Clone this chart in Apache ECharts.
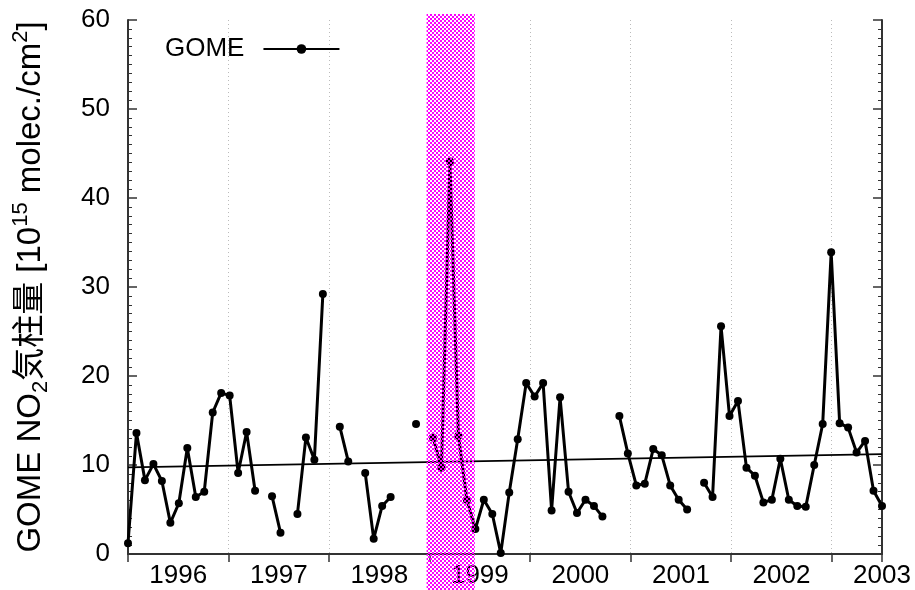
<!DOCTYPE html>
<html>
<head>
<meta charset="utf-8">
<title>GOME NO2</title>
<script src="https://cdn.jsdelivr.net/npm/echarts@6/dist/echarts.min.js"></script>
<style>
  html, body { margin: 0; padding: 0; background: #fff; }
  #chart { width: 915px; height: 590px; }
</style>
</head>
<body>
<div id="chart"></div>
<script>
// monthly GOME NO2 column, Jul 1995 .. Dec 2002 (null = no data)
const startYear = 1995;
const startMonth = 7;
const gomeValues = [
  1.2, 13.6, 8.3, 10.1, 8.2, 3.5,                                    // 1995 Jul-Dec
  5.7, 11.9, 6.4, 7.0, 15.9, 18.1, 17.8, 9.1, 13.7, 7.1, null, 6.5,   // 1996
  2.4, null, 4.5, 13.1, 10.6, 29.2, null, 14.3, 10.4, null, 9.1, 1.7, // 1997
  5.4, 6.4, null, null, 14.6, null, 13.1, 9.7, 44.1, 13.3, 6.1, 2.8,  // 1998
  6.1, 4.5, 0.1, 6.9, 12.9, 19.2, 17.7, 19.2, 4.9, 17.6, 7.0, 4.6,    // 1999
  6.1, 5.4, 4.2, null, 15.5, 11.3, 7.7, 7.9, 11.8, 11.1, 7.7, 6.1,    // 2000
  5.0, null, 8.0, 6.4, 25.6, 15.5, 17.2, 9.7, 8.8, 5.8, 6.1, 10.7,    // 2001
  6.1, 5.4, 5.3, 10.0, 14.6, 33.9, 14.7, 14.2, 11.4, 12.7, 7.1, 5.4   // 2002
];
// linear trend, value at first and last month
const trendEnds = [9.74, 11.22];
// highlighted period, in decimal years
const highlightRange = [1998.47, 1998.95];
const yearRange = [1995.5, 2003];

const months = gomeValues.map((v, i) => {
  const m = startMonth - 1 + i;
  return (startYear + Math.floor(m / 12)) + '-' + String(m % 12 + 1).padStart(2, '0');
});
const trendData = gomeValues.map((v, i) =>
  i === 0 ? trendEnds[0] : (i === gomeValues.length - 1 ? trendEnds[1] : null));

const FONT = "'Liberation Sans', 'Noto Sans CJK JP', sans-serif";
const AXIS_COLOR = '#333';

const chart = echarts.init(document.getElementById('chart'), null, { renderer: 'canvas' });

let option = {
  animation: false,
  backgroundColor: '#fff',
  textStyle: { fontFamily: FONT },
  grid: { left: 128, right: 33, top: 20, bottom: 36, containLabel: false, outerBoundsMode: 'none' },
  legend: {
    data: ['GOME'],
    left: 160,
    top: 31,
    align: 'right',
    itemWidth: 76,
    itemHeight: 12,
    textStyle: { fontSize: 26, color: '#000', fontFamily: FONT, padding: [0, 14, 0, 0] }
  },
  xAxis: [
    {
      // data axis (one category per month)
      type: 'category',
      data: months,
      boundaryGap: false,
      show: false
    },
    {
      // year labels at the bottom
      type: 'value',
      min: yearRange[0],
      max: yearRange[1],
      interval: 0.5,
      position: 'bottom',
      axisLine: { show: true, onZero: false, lineStyle: { color: AXIS_COLOR, width: 2 } },
      axisTick: { show: false },
      splitLine: { show: false },
      axisLabel: {
        fontSize: 26,
        color: '#000',
        margin: 9,
        fontFamily: FONT,
        formatter: v => (Math.abs(v - Math.round(v)) < 1e-6 ? String(Math.round(v)) : '')
      }
    },
    {
      // top border with ticks and the dotted vertical grid
      type: 'value',
      min: yearRange[0],
      max: yearRange[1],
      interval: 1,
      position: 'top',
      axisLine: { show: true, lineStyle: { color: AXIS_COLOR, width: 2 } },
      axisTick: { show: true, inside: true, length: 8, lineStyle: { color: AXIS_COLOR, width: 1.5 } },
      axisLabel: { show: false },
      splitLine: { show: true, lineStyle: { color: '#bbb', width: 1, type: [1, 3] } }
    }
  ],
  yAxis: [
    {
      type: 'value',
      min: 0,
      max: 60,
      interval: 10,
      position: 'left',
      name: '{a|GOME NO}{sub|2}{a|気柱量 [10}{sup|15}{a| molec./cm}{sup|2}{a|]}',
      nameLocation: 'middle',
      nameGap: 76,
      nameTextStyle: {
        color: '#000',
        rich: {
          a: { fontSize: 33, fontFamily: FONT, color: '#000', lineHeight: 42 },
          sub: { fontSize: 22, fontFamily: FONT, color: '#000', verticalAlign: 'bottom' },
          sup: { fontSize: 22, fontFamily: FONT, color: '#000', verticalAlign: 'top' }
        }
      },
      axisLine: { show: true, lineStyle: { color: AXIS_COLOR, width: 2 } },
      axisTick: { show: true, inside: true, length: 9, lineStyle: { color: AXIS_COLOR, width: 1.5 } },
      minorTick: { show: true, splitNumber: 10, length: 4, lineStyle: { color: AXIS_COLOR, width: 1 } },
      axisLabel: { fontSize: 26, color: '#000', margin: 18, fontFamily: FONT },
      splitLine: { show: false }
    },
    {
      type: 'value',
      min: 0,
      max: 60,
      interval: 10,
      position: 'right',
      axisLine: { show: true, lineStyle: { color: AXIS_COLOR, width: 2 } },
      axisTick: { show: true, inside: true, length: 9, lineStyle: { color: AXIS_COLOR, width: 1.5 } },
      minorTick: { show: true, splitNumber: 10, length: 4, lineStyle: { color: AXIS_COLOR, width: 1 } },
      axisLabel: { show: false },
      splitLine: { show: false }
    }
  ],
  series: [
    {
      name: 'trend',
      type: 'line',
      xAxisIndex: 0,
      yAxisIndex: 0,
      data: trendData,
      connectNulls: true,
      showSymbol: false,
      symbol: 'none',
      lineStyle: { color: '#000', width: 1.8 },
      z: 2
    },
    {
      name: 'GOME',
      type: 'line',
      xAxisIndex: 0,
      yAxisIndex: 0,
      data: gomeValues,
      connectNulls: false,
      symbol: 'circle',
      symbolSize: 8,
      showAllSymbol: true,
      itemStyle: { color: '#000' },
      lineStyle: { color: '#000', width: 3 },
      z: 3
    }
  ]
};
chart.setOption(option);

// magenta checker pattern for the highlighted period
const pat = document.createElement('canvas');
pat.width = 4;
pat.height = 4;
const pctx = pat.getContext('2d');
pctx.fillStyle = '#ff00ff';
pctx.fillRect(0, 0, 2, 2);
pctx.fillRect(2, 2, 2, 2);

const x0 = chart.convertToPixel({ xAxisIndex: 1 }, highlightRange[0]);
const x1 = chart.convertToPixel({ xAxisIndex: 1 }, highlightRange[1]);
const yTop = chart.convertToPixel({ yAxisIndex: 0 }, 60) - 6;
chart.setOption({
  graphic: [{
    type: 'rect',
    z: 100,
    silent: true,
    shape: { x: x0, y: yTop, width: x1 - x0, height: chart.getHeight() - yTop },
    style: { fill: { image: pat, repeat: 'repeat' } }
  }]
});
</script>
</body>
</html>
